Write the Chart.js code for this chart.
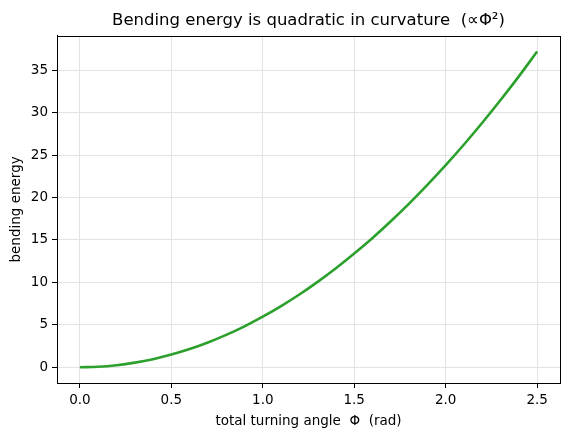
<!DOCTYPE html>
<html>
<head>
<meta charset="utf-8">
<script src="https://cdn.jsdelivr.net/npm/chart.js@4/dist/chart.umd.min.js"></script>
<style>
  html, body { margin: 0; padding: 0; background: #fff; }
  #wrap { width: 570px; height: 440px; }
</style>
</head>
<body>
<div id="wrap"><canvas id="c" width="570" height="440"></canvas></div>
<script>
// turning angle (rad) and bending energy
const angles = [0.0, 0.1, 0.2, 0.3, 0.4, 0.5, 0.6, 0.7, 0.8, 0.9, 1.0, 1.1, 1.2,
                1.3, 1.4, 1.5, 1.6, 1.7, 1.8, 1.9, 2.0, 2.1, 2.2, 2.3, 2.4, 2.5];
const energy = [0.00, 0.06, 0.24, 0.54, 0.95, 1.49, 2.14, 2.92, 3.81, 4.82, 5.95, 7.20, 8.57,
                10.06, 11.66, 13.39, 15.23, 17.20, 19.28, 21.48, 23.80, 26.24, 28.80, 31.48, 34.27, 37.19];
const xTicks = [0.0, 0.5, 1.0, 1.5, 2.0, 2.5];
const yTicks = [0, 5, 10, 15, 20, 25, 30, 35];

const FONT = 'DejaVu Sans';

// matplotlib-style box round the plot
const frame = {
    id: 'frame',
    afterDraw(chart) {
        const a = chart.chartArea, ctx = chart.ctx;
        ctx.save();
        ctx.strokeStyle = '#000';
        ctx.lineWidth = 1;
        ctx.strokeRect(Math.round(a.left) + 0.5, Math.round(a.top) + 0.5,
                       Math.round(a.right - a.left), Math.round(a.bottom - a.top));
        ctx.restore();
    }
};

new Chart(document.getElementById('c'), {
    type: 'line',
    data: {
        datasets: [{
            data: angles.map((x, i) => ({ x: x, y: energy[i] })),
            borderColor: '#2ca02c',
            borderWidth: 2.6,
            pointRadius: 0,
            cubicInterpolationMode: 'monotone',
            fill: false
        }]
    },
    options: {
        responsive: false,
        animation: false,
        layout: { padding: { left: 0, right: 10, top: 0, bottom: 7 } },
        plugins: {
            legend: { display: false },
            tooltip: { enabled: false },
            title: {
                display: true,
                fullSize: false,
                text: 'Bending energy is quadratic in curvature  (\u221D\u03A6\u00B2)',
                color: '#000',
                font: { family: FONT, size: 16.5, weight: 'normal' },
                padding: { top: 11, bottom: 5 }
            }
        },
        scales: {
            x: {
                type: 'linear',
                min: -0.125, max: 2.625,
                afterBuildTicks: s => { s.ticks = xTicks.map(v => ({ value: v })); },
                afterFit: s => { s.height = 50; },
                ticks: {
                    color: '#000', padding: 4,
                    font: { family: FONT, size: 13.5 },
                    callback: v => v.toFixed(1)
                },
                grid: { color: '#e3e3e3', tickColor: '#000', tickLength: 5, drawTicks: true },
                border: { color: '#000' },
                title: {
                    display: true, text: 'total turning angle  \u03A6  (rad)', color: '#000',
                    font: { family: FONT, size: 13.5 }, padding: { top: 6, bottom: 3 }
                }
            },
            y: {
                type: 'linear',
                min: -1.86, max: 39.05,
                afterBuildTicks: s => { s.ticks = yTicks.map(v => ({ value: v })); },
                afterFit: s => { s.width = 57; },
                ticks: {
                    color: '#000', padding: 4,
                    font: { family: FONT, size: 13.5 }
                },
                grid: { color: '#e3e3e3', tickColor: '#000', tickLength: 5, drawTicks: true },
                border: { color: '#000' },
                title: {
                    display: true, text: 'bending energy', color: '#000',
                    font: { family: FONT, size: 13.5 }, padding: { top: 8, bottom: 4 }
                }
            }
        }
    },
    plugins: [frame]
});
</script>
</body>
</html>
